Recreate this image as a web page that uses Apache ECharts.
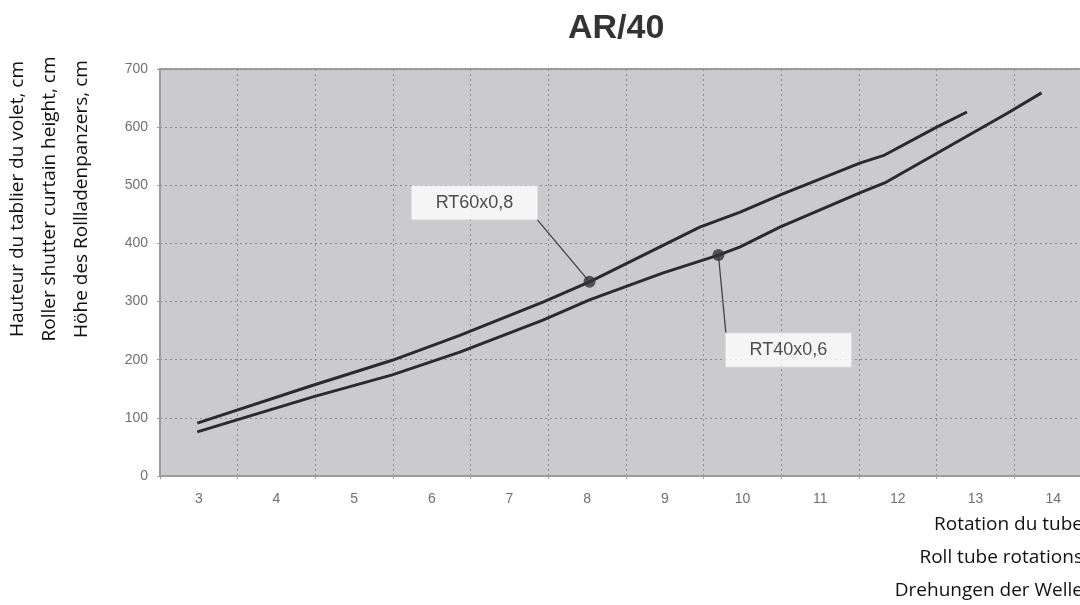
<!DOCTYPE html>
<html>
<head>
<meta charset="utf-8">
<script src="https://cdn.jsdelivr.net/npm/echarts@6/dist/echarts.min.js"></script>
<style>
html,body{margin:0;padding:0;background:#fff;overflow:hidden;width:1080px;height:605px;}
#chart{width:1092px;height:605px;}
</style>
</head>
<body>
<div id="chart"></div>
<script>
// ---- data ----
const titleText = 'AR/40';
const xCategories = ['3','4','5','6','7','8','9','10','11','12','13','14'];
const yNames = ['Hauteur du tablier du volet, cm', 'Roller shutter curtain height, cm', 'Höhe des Rollladenpanzers, cm'];
const xNames = ['Rotation du tube', 'Roll tube rotations', 'Drehungen der Welle'];

// RT60x0,8 (upper curve): rotations -> height (cm)
const rt60X = [2.98, 4.47, 5.49, 6.36, 7.43, 8.03, 9.45, 9.97, 10.48, 11.51, 11.83, 12.50, 12.89];
const rt60Y = [91, 156, 199, 242, 299, 334, 428, 454, 483, 538, 552, 600, 626];
// RT40x0,6 (lower curve)
const rt40X = [2.98, 4.47, 5.49, 6.36, 7.43, 8.03, 8.97, 9.69, 9.97, 10.48, 11.51, 11.83, 13.41, 13.85];
const rt40Y = [76, 136, 174, 213, 268, 303, 349, 380, 394, 428, 487, 504, 624, 659];

// annotation markers (on the curves)
const annotLabels = ['RT60x0,8', 'RT40x0,6'];
const annotX = [8.03, 9.69];
const annotY = [334, 380];

// ---- chart ----
const chart = echarts.init(document.getElementById('chart'), null, {renderer: 'canvas'});
const zip = (a, b) => a.map((v, i) => [v, b[i]]);
const lineColor = '#2b2b2b';
const boxW = 125, boxH = 33;
const labelOffsets = [[-115, -79], [70, 95]];
// which box corner the leader line reaches: [sx, sy] in half-sizes
const leaderCorner = [[1, 1], [-1, -1]];

const graphics = [];
yNames.forEach((t, i) => {
  graphics.push({
    type: 'text', x: 18 + i * 32, y: 199, rotation: Math.PI / 2,
    style: {text: t, font: '19px "Open Sans"', fill: '#111', textAlign: 'center', textVerticalAlign: 'middle'}
  });
});
xNames.forEach((t, i) => {
  graphics.push({
    type: 'text', x: 1083, y: 525 + i * 33,
    style: {text: t, font: '19px "Open Sans"', fill: '#111', textAlign: 'right', textVerticalAlign: 'middle'}
  });
});

const option = {
  animation: false,
  backgroundColor: '#ffffff',
  title: {
    text: titleText, left: 563, top: 7,
    textStyle: {fontFamily: 'Liberation Sans', fontWeight: 'bold', fontSize: 34, color: '#333'}
  },
  grid: {
    left: 160, right: 0, top: 69, bottom: 129,
    show: true, backgroundColor: '#cbcbcd', borderColor: '#9c9c9c', borderWidth: 2
  },
  xAxis: [{
    type: 'category', data: xCategories, boundaryGap: true,
    axisLine: {show: true, lineStyle: {color: '#9c9c9c', width: 2}},
    axisTick: {show: true, length: 3, lineStyle: {color: '#9c9c9c'}},
    axisLabel: {color: '#707070', fontSize: 14, fontFamily: 'Liberation Sans', margin: 16},
    splitLine: {show: true, lineStyle: {color: '#8e8e8e', type: [2, 3], width: 1}}
  }, {
    type: 'value', min: 2.5, max: 14.5, show: false, position: 'top',
    splitLine: {show: false}
  }],
  yAxis: {
    type: 'value', min: 0, max: 700, interval: 100,
    axisLine: {show: true, lineStyle: {color: '#9c9c9c', width: 2}},
    axisTick: {show: true, length: 3, lineStyle: {color: '#9c9c9c'}},
    axisLabel: {color: '#707070', fontSize: 14, fontFamily: 'Liberation Sans', margin: 12},
    splitLine: {show: true, lineStyle: {color: '#8e8e8e', type: [2, 3], width: 1}}
  },
  graphic: graphics,
  series: [{
    type: 'line', xAxisIndex: 1, data: zip(rt60X, rt60Y), showSymbol: false, symbol: 'none',
    lineStyle: {color: lineColor, width: 3}, z: 3
  }, {
    type: 'line', xAxisIndex: 1, data: zip(rt40X, rt40Y), showSymbol: false, symbol: 'none',
    lineStyle: {color: lineColor, width: 3}, z: 3
  }, {
    type: 'scatter', xAxisIndex: 1, z: 5,
    data: annotLabels.map((n, i) => ({name: n, value: [annotX[i], annotY[i]]})),
    symbol: 'circle', symbolSize: 12,
    itemStyle: {color: '#333'},
    label: {
      show: true, position: 'inside', formatter: '{b}',
      fontFamily: 'Liberation Sans', fontSize: 18, color: '#222',
      backgroundColor: '#fff', borderColor: '#e0e0e0', borderWidth: 1,
      width: boxW, height: boxH, lineHeight: boxH, align: 'center', verticalAlign: 'middle', padding: 0
    },
    labelLayout: function (p) {
      const o = labelOffsets[p.dataIndex];
      return {dx: o[0], dy: o[1]};
    }
  }]
};
chart.setOption(option);

// leader lines from each marker to its label box corner, positioned via the axis scales
const leaders = annotLabels.map((n, i) => {
  const p = chart.convertToPixel({seriesIndex: 2}, [annotX[i], annotY[i]]);
  const o = labelOffsets[i], c = leaderCorner[i];
  return {
    type: 'line', z: 4,
    shape: {x1: p[0], y1: p[1], x2: p[0] + o[0] + c[0] * boxW / 2, y2: p[1] + o[1] + c[1] * boxH / 2},
    style: {stroke: '#444', lineWidth: 1.3}
  };
});
chart.setOption({graphic: graphics.concat(leaders)});
</script>
</body>
</html>
